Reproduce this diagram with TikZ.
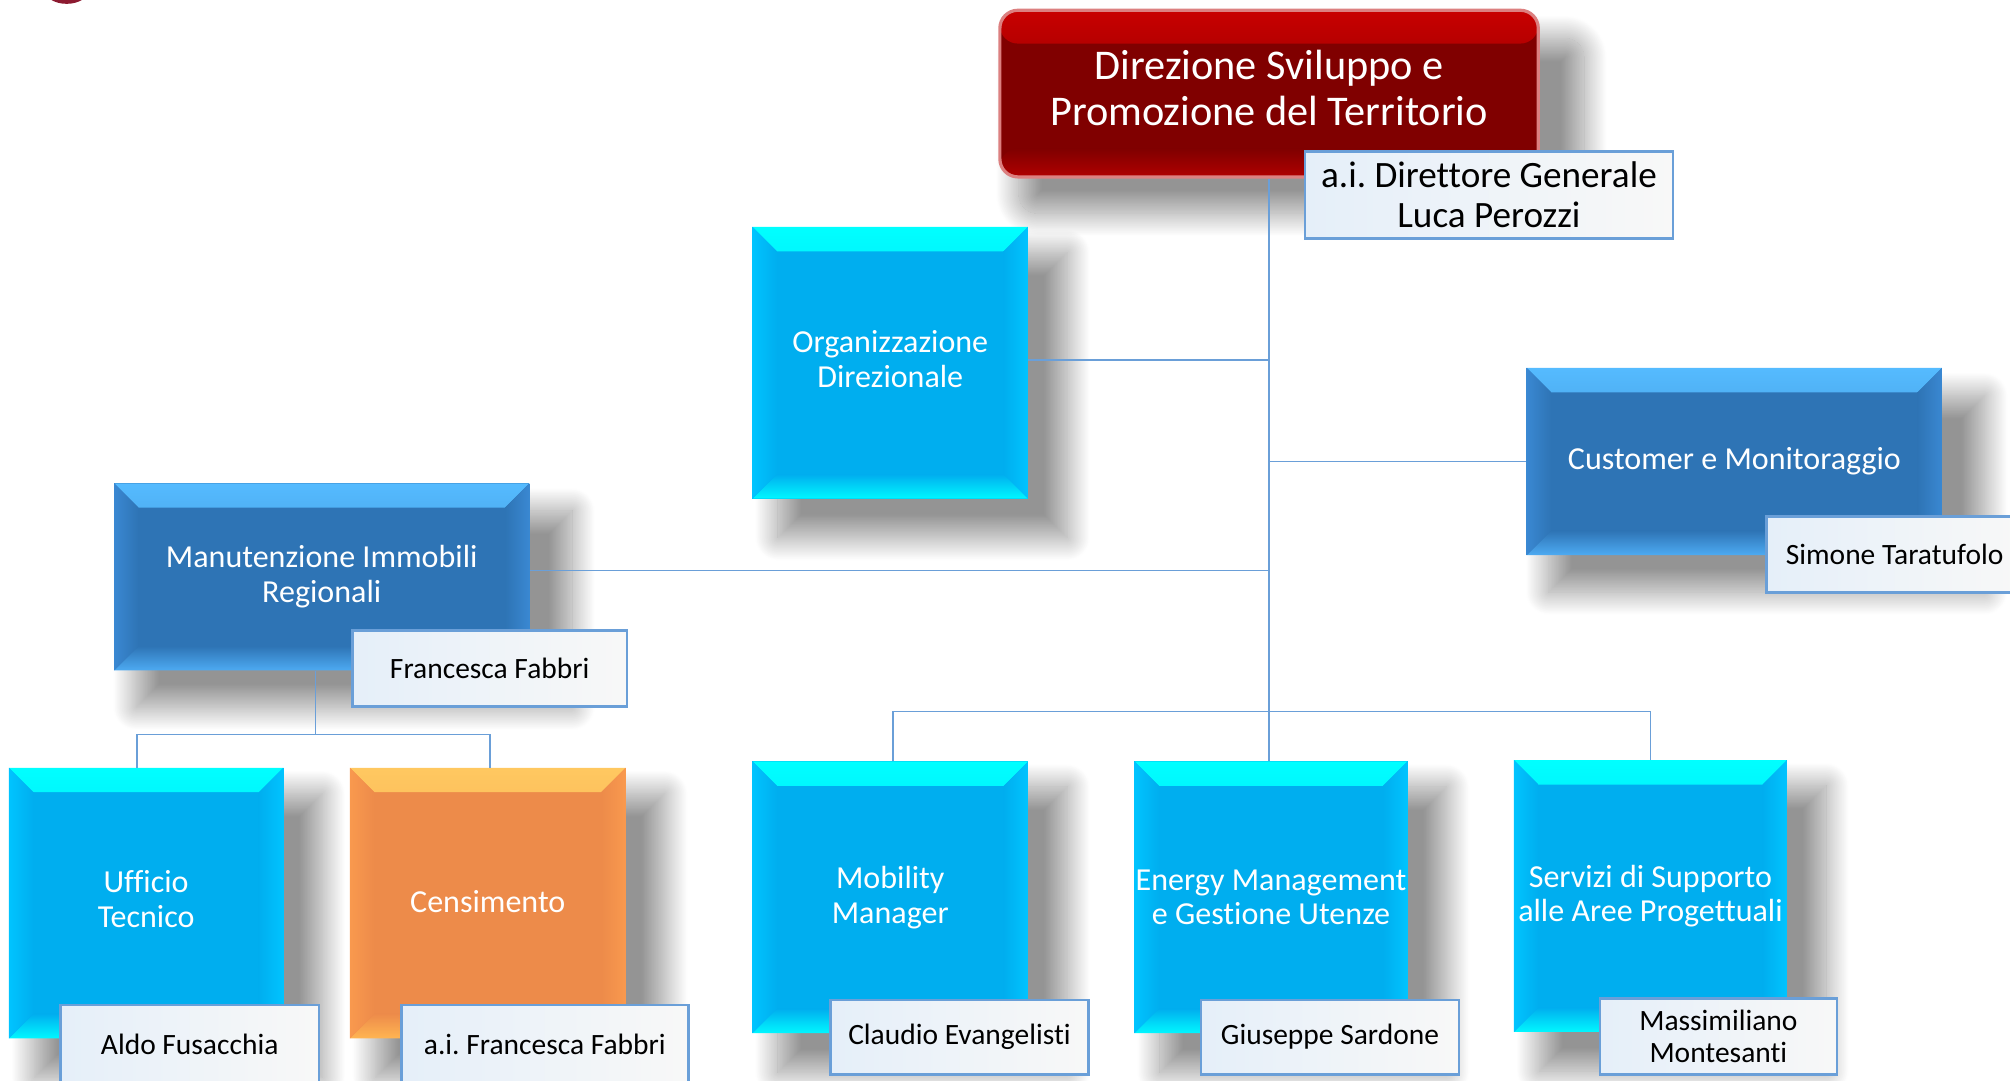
\documentclass[tikz,border=0pt]{standalone}
\usepackage{fontspec}
\setmainfont{Carlito}[Ligatures=NoCommon]
\usetikzlibrary{shadows.blur,calc}
\frenchspacing
\definecolor{cyB}{HTML}{00AEEF}
\definecolor{cyE}{HTML}{00FFFF}
\definecolor{cyE2}{HTML}{00F8FF}
\definecolor{cyS}{HTML}{00C4FF}
\definecolor{blB}{HTML}{2E74B5}
\definecolor{blE}{HTML}{55BBFF}
\definecolor{blE2}{HTML}{4DAAF2}
\definecolor{blS}{HTML}{3A88D2}
\definecolor{orB}{HTML}{ED8B4A}
\definecolor{orE}{HTML}{FFC860}
\definecolor{orE2}{HTML}{FFB552}
\definecolor{orS}{HTML}{F9994E}
\definecolor{rdB}{HTML}{800000}
\definecolor{rdE}{HTML}{C80000}
\definecolor{rdE2}{HTML}{B00000}
\definecolor{rdL}{HTML}{DC8080}
\definecolor{lnB}{HTML}{6A9FD8}
\definecolor{lbL}{HTML}{E5EFF9}
\definecolor{lbR}{HTML}{F8F8F8}
\definecolor{crim}{HTML}{8C1A30}
% bevel shadings: #1 prefix, #2 base, #3 top edge, #4 side edge, #5 bottom edge
\newcommand\mkbevel[5]{%
  \colorlet{#1mT}{#2!45!#3}\colorlet{#1mB}{#2!45!#5}%
  \pgfdeclareverticalshading{#1T}{100bp}{color(0bp)=(#2); color(25bp)=(#2); color(52bp)=(#1mT); color(75bp)=(#3); color(100bp)=(#3)}%
  \pgfdeclareverticalshading{#1Bo}{100bp}{color(0bp)=(#5); color(25bp)=(#5); color(48bp)=(#1mB); color(75bp)=(#2); color(100bp)=(#2)}%
  \pgfdeclarehorizontalshading{#1L}{100bp}{color(0bp)=(#4); color(25bp)=(#4); color(75bp)=(#2); color(100bp)=(#2)}%
  \pgfdeclarehorizontalshading{#1R}{100bp}{color(0bp)=(#2); color(25bp)=(#2); color(75bp)=(#4); color(100bp)=(#4)}%
}
\mkbevel{cy}{cyB}{cyE}{cyS}{cyE2}
\mkbevel{bl}{blB}{blE}{blS}{blE2}
\mkbevel{or}{orB}{orE}{orS}{orE2}
\colorlet{rdmT}{rdB!50!rdE}
\pgfdeclareverticalshading{rdT}{100bp}{color(0bp)=(rdB); color(25bp)=(rdB); color(55bp)=(rdmT); color(75bp)=(rdE); color(100bp)=(rdE)}
\pgfdeclareverticalshading{rdBo}{100bp}{color(0bp)=(rdE2); color(25bp)=(rdE2); color(75bp)=(rdB); color(100bp)=(rdB)}
\newcommand\bevw{19pt}
\newcommand\bevelfill[1]{%
  \shade[shading=#1T] (path picture bounding box.north west) -- (path picture bounding box.north east) -- ([xshift=-\bevw,yshift=-\bevw]path picture bounding box.north east) -- ([xshift=\bevw,yshift=-\bevw]path picture bounding box.north west) -- cycle;
  \shade[shading=#1Bo] (path picture bounding box.south west) -- (path picture bounding box.south east) -- ([xshift=-\bevw,yshift=\bevw]path picture bounding box.south east) -- ([xshift=\bevw,yshift=\bevw]path picture bounding box.south west) -- cycle;
  \shade[shading=#1L] (path picture bounding box.north west) -- (path picture bounding box.south west) -- ([xshift=\bevw,yshift=\bevw]path picture bounding box.south west) -- ([xshift=\bevw,yshift=-\bevw]path picture bounding box.north west) -- cycle;
  \shade[shading=#1R] (path picture bounding box.north east) -- (path picture bounding box.south east) -- ([xshift=-\bevw,yshift=\bevw]path picture bounding box.south east) -- ([xshift=-\bevw,yshift=-\bevw]path picture bounding box.north east) -- cycle;
}
\begin{document}
\begin{tikzpicture}[x=1pt,y=-1pt,
  conn/.style={draw=lnB, line width=1.3pt},
  shad/.style={blur shadow={shadow xshift=24pt,shadow yshift=-24pt,shadow scale=1.05,
    shadow blur radius=17pt,shadow blur steps=40,shadow opacity=42}},
  unit/.style={shad, inner sep=0pt, text=white, align=center, font=\fontsize{25}{27}\selectfont},
  cyanbox/.style={unit, fill=cyB, path picture={\bevelfill{cy}}},
  bluebox/.style={unit, fill=blB, path picture={\bevelfill{bl}}},
  orangebox/.style={unit, fill=orB, path picture={\bevelfill{or}}},
  redbox/.style={shad, inner sep=0pt, text=white, align=center, rounded corners=14pt,
    draw=rdL, line width=2.5pt, fill=rdB, font=\fontsize{33}{36}\selectfont,
    path picture={
      \shade[shading=rdT] (path picture bounding box.north west) rectangle ([yshift=-26pt]path picture bounding box.north east);
      \shade[shading=rdBo] ([yshift=22pt]path picture bounding box.south west) rectangle (path picture bounding box.south east);}},
  lbl/.style={draw=lnB, line width=2pt, left color=lbL, right color=lbR, text=black,
    inner sep=0pt, align=center, font=\fontsize{23}{25}\selectfont},
  sz/.style 2 args={minimum width=#1pt, minimum height=#2pt}
]
\useasboundingbox (0,0) rectangle (1568,843);
\fill[crim] (52,-9) ellipse [x radius=18pt, y radius=12pt];

% main units
\node[redbox, sz={420}{130}] (top) at (990,73) {\raisebox{4pt}{\begin{tabular}{@{}c@{}}Direzione Sviluppo e\\Promozione del Territorio\end{tabular}}};
\node[cyanbox, sz={215}{212}] (org) at (694.5,283) {\raisebox{3pt}{\begin{tabular}{@{}c@{}}Organizzazione\\Direzionale\end{tabular}}};
\node[bluebox, sz={324}{146}] (cust) at (1353,360) {Customer e Monitoraggio};
\node[bluebox, sz={324}{146}] (manut) at (251,450) {Manutenzione Immobili\\Regionali};
\node[cyanbox, sz={214}{211}] (uff) at (114,704.5) {\raisebox{2pt}{\begin{tabular}{@{}c@{}}Ufficio\\Tecnico\end{tabular}}};
\node[orangebox, sz={215}{211}] (cens) at (380.5,704.5) {\raisebox{2pt}{Censimento}};
\node[cyanbox, sz={215}{212}] (mob) at (694.5,700) {Mobility\\Manager};
\node[cyanbox, sz={213}{212}] (energy) at (991.5,700) {Energy Management\\e Gestione Utenze};
\node[cyanbox, sz={213}{212}] (serv) at (1287.5,699) {Servizi di Supporto\\alle Aree Progettuali};

% connectors
\coordinate (bus) at (990,555);
\coordinate (lbus) at (246,573);
\draw[conn] (top.south) -- (top.south |- energy.north);
\draw[conn] ([yshift=2pt]org.east) -- ([yshift=2pt]org.east -| top.south);
\draw[conn] (cust.west) -- (cust.west -| top.south);
\draw[conn] ([yshift=5pt]manut.east) -- ([yshift=5pt]manut.east -| top.south);
\draw[conn] ([xshift=2pt]mob.north) |- (bus) -| (serv.north);
\draw[conn] (lbus |- manut.south) -- (lbus);
\draw[conn] ([xshift=-7pt]uff.north) |- (lbus) -| ([xshift=1.5pt]cens.north);

% name labels
\node[lbl, sz={287}{68}, font=\fontsize{29}{31}\selectfont] (luca) at (1161.5,152) {a.i. Direttore Generale\\Luca Perozzi};
\node[lbl, sz={200}{59}] (simone) at (1478,432.5) {Simone Taratufolo};
\node[lbl, sz={214}{59}] (franc) at (382,521.5) {Francesca Fabbri};
\node[lbl, sz={202}{62}] (aldo) at (148,815) {Aldo Fusacchia};
\node[lbl, sz={224}{62}] (aif) at (425,815) {a.i. Francesca Fabbri};
\node[lbl, sz={201}{58}] (claud) at (748.5,809) {Claudio Evangelisti};
\node[lbl, sz={201}{58}] (gius) at (1037.5,809) {Giuseppe Sardone};
\node[lbl, sz={185}{59}] (mass) at (1340.5,808.5) {Massimiliano\\Montesanti};
\end{tikzpicture}
\end{document}
